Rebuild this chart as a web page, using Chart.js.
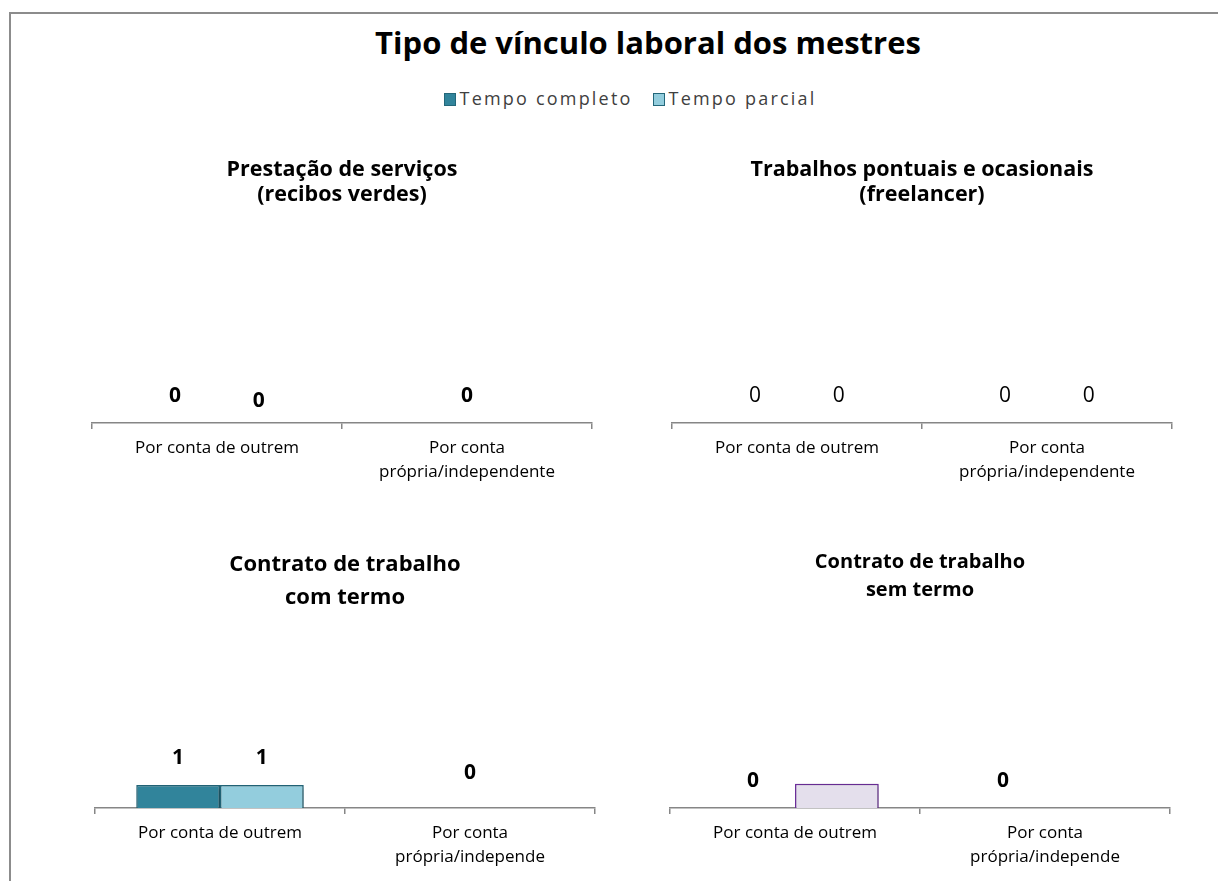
<!DOCTYPE html>
<html lang="pt">
<head>
<meta charset="utf-8">
<script src="https://cdn.jsdelivr.net/npm/chart.js@4"></script>
<style>
  body { margin: 0; background: #fff; width: 1218px; height: 881px; overflow: hidden; position: relative; font-family: 'Open Sans', sans-serif; }
  #moldura { position: absolute; left: 9px; top: 12px; width: 1260px; height: 900px; border: 2px solid #8c8c8c; box-sizing: border-box; }
  #titulo { position: absolute; left: 0; width: 1296px; top: 21px; text-align: center; font-weight: bold; font-size: 31px; color: #000; }
  #legenda { position: absolute; left: 0; width: 1260px; top: 86px; text-align: center; font-size: 18px; color: #404040; letter-spacing: 2.2px; white-space: nowrap; }
  #legenda span { margin: 0 10px; }
  #legenda i { display: inline-block; width: 10px; height: 11px; margin-right: 4px; vertical-align: -1px; }
  .painel { position: absolute; }
</style>
</head>
<body>
<div id="moldura"></div>
<div id="titulo">Tipo de vínculo laboral dos mestres</div>
<div id="legenda"></div>
<div class="painel" style="left:62px; top:150px; width:560px; height:343px;"><canvas id="g1"></canvas></div>
<div class="painel" style="left:642px; top:150px; width:560px; height:343px;"><canvas id="g2"></canvas></div>
<div class="painel" style="left:65px; top:540px; width:560px; height:338px;"><canvas id="g3"></canvas></div>
<div class="painel" style="left:640px; top:540px; width:560px; height:338px;"><canvas id="g4"></canvas></div>
<script>
// Dados
const series = ["Tempo completo", "Tempo parcial"];
const categorias = ["Por conta de outrem", ["Por conta", "própria/independente"]];
const categoriasCortadas = ["Por conta de outrem", ["Por conta", "própria/independe"]];

const titulos = [
  ["Prestação de serviços", "(recibos verdes)"],
  ["Trabalhos pontuais e ocasionais", "(freelancer)"],
  ["Contrato de trabalho", "com termo"],
  ["Contrato de trabalho", "sem termo"]
];

const prestacaoCompleto = [0, 0];
const prestacaoParcial = [0, 0];
const freelancerCompleto = [0, 0];
const freelancerParcial = [0, 0];
const comTermoCompleto = [1, 0];
const comTermoParcial = [1, 0];
const semTermoCompleto = [0, 0];
const semTermoParcial = [1, 0];

const corCompleto = "#31849B";
const corParcial = "#93CDDD";
const corBorda = "#23677A";

// Legenda
const legenda = document.getElementById("legenda");
[corCompleto, corParcial].forEach((cor, i) => {
  legenda.innerHTML += `<span><i style="background:${cor}; border:1px solid ${corBorda}"></i>${series[i]}</span>`;
});

// Rótulos de dados desenhados por cima das barras
const rotulos = {
  id: "rotulos",
  afterDatasetsDraw(chart, args, opts) {
    const ctx = chart.ctx;
    ctx.save();
    ctx.font = (opts.negrito ? "bold " : "") + "21px 'Open Sans'";
    ctx.fillStyle = "#000";
    ctx.textAlign = "center";
    ctx.textBaseline = "middle";
    chart.data.datasets.forEach((ds, i) => {
      chart.getDatasetMeta(i).data.forEach((barra, j) => {
        if (opts.esconder && opts.esconder[i] && opts.esconder[i][j]) return;
        let x = barra.x;
        if (opts.juntar && opts.juntar[j]) {
          if (i > 0) return;
          x = chart.scales.x.getPixelForValue(j);
        }
        const desvio = (opts.desvio && opts.desvio[i] && opts.desvio[i][j]) || 0;
        ctx.fillText(ds.data[j], x, barra.y - 27 + desvio);
      });
    });
    ctx.restore();
  }
};

// Sombra leve nas barras
const sombra = {
  id: "sombra",
  beforeDatasetsDraw(chart) {
    const ctx = chart.ctx;
    ctx.save();
    ctx.shadowColor = "rgba(0,0,0,0.35)";
    ctx.shadowBlur = 4;
    ctx.shadowOffsetX = 1;
    ctx.shadowOffsetY = 1;
  },
  afterDatasetsDraw(chart) {
    chart.ctx.restore();
  }
};

function criarGrafico(id, titulo, tamTitulo, alturaLinha, labels, completo, parcial, corParcialBarra, bordaParcial, rot) {
  return new Chart(document.getElementById(id), {
    type: "bar",
    data: {
      labels: labels,
      datasets: [
        { label: series[0], data: completo, backgroundColor: corCompleto, borderColor: corBorda, borderWidth: 1.5 },
        { label: series[1], data: parcial, backgroundColor: corParcialBarra, borderColor: bordaParcial, borderWidth: 1.5 }
      ]
    },
    options: {
      responsive: true,
      maintainAspectRatio: false,
      animation: false,
      categoryPercentage: 0.67,
      barPercentage: 1.0,
      layout: { padding: { left: 30, right: 30, top: 0, bottom: 0 } },
      plugins: {
        legend: { display: false },
        tooltip: { enabled: false },
        title: {
          display: true,
          text: titulo,
          color: "#000",
          font: { family: "'Open Sans'", size: tamTitulo, weight: "bold", lineHeight: alturaLinha },
          padding: { top: 8, bottom: 10 }
        },
        rotulos: rot
      },
      scales: {
        x: {
          grid: { display: true, drawOnChartArea: false, drawTicks: true, tickLength: 6, color: "#868686", lineWidth: 1.5, offset: true },
          border: { display: true, color: "#868686", width: 1.5 },
          ticks: { color: "#000", font: { family: "'Open Sans'", size: 17, lineHeight: 1.4 }, padding: 7, maxRotation: 0, autoSkip: false },
          afterFit: (s) => { s.height = 70; }
        },
        y: { display: false, min: 0, max: 8 }
      }
    },
    plugins: [sombra, rotulos]
  });
}

criarGrafico("g1", titulos[0], 21.5, 1.15, categorias, prestacaoCompleto, prestacaoParcial, corParcial, corBorda,
  { negrito: true, juntar: [false, true], desvio: [[0, 0], [5, 0]] });
criarGrafico("g2", titulos[1], 21.5, 1.15, categorias, freelancerCompleto, freelancerParcial, corParcial, corBorda,
  { negrito: false });
criarGrafico("g3", titulos[2], 22, 1.5, categoriasCortadas, comTermoCompleto, comTermoParcial, corParcial, corBorda,
  { negrito: true, juntar: [false, true], desvio: [[0, -8], [0, 0]] });
criarGrafico("g4", titulos[3], 20, 1.4, categoriasCortadas, semTermoCompleto, semTermoParcial, "#E4DFEC", "#7030A0",
  { negrito: true, esconder: [[false, false], [true, true]] });
</script>
</body>
</html>
